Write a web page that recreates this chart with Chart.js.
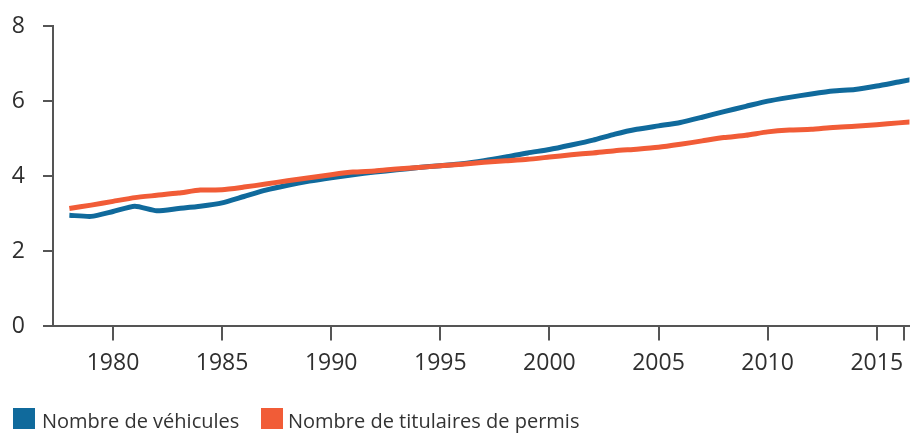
<!DOCTYPE html>
<html>
<head>
<meta charset="utf-8">
<script src="https://cdn.jsdelivr.net/npm/chart.js@4"></script>
<style>
  html, body { margin: 0; padding: 0; background: #fff; }
  #wrap { position: relative; width: 913px; height: 434px; font-family: 'Open Sans', sans-serif; }
  #chart { position: absolute; left: 0; top: 0; }
  .legend-box { position: absolute; top: 408px; width: 22px; height: 21px; }
  .legend-text { position: absolute; top: 407px; font-size: 20px; color: #333; white-space: nowrap; line-height: normal; }
</style>
</head>
<body>
<div id="wrap">
  <canvas id="chart" width="913" height="434"></canvas>
  <div id="legend"></div>
</div>
<script>
// Years and values (millions)
const years = [1978, 1979, 1980, 1981, 1982, 1983, 1984, 1985, 1986, 1987,
  1988, 1989, 1990, 1991, 1992, 1993, 1994, 1995, 1996, 1997,
  1998, 1999, 2000, 2001, 2002, 2003, 2004, 2005, 2006, 2007,
  2008, 2009, 2010, 2011, 2012, 2013, 2014, 2015, 2016, 2017];

const vehicules = [2.96, 2.93, 3.06, 3.20, 3.08, 3.14, 3.20, 3.29, 3.46, 3.63,
  3.76, 3.87, 3.96, 4.04, 4.11, 4.17, 4.23, 4.28, 4.33, 4.41,
  4.51, 4.62, 4.71, 4.83, 4.96, 5.12, 5.25, 5.34, 5.43, 5.57,
  5.72, 5.86, 6.00, 6.10, 6.19, 6.27, 6.31, 6.40, 6.51, 6.62];

const titulaires = [3.14, 3.23, 3.33, 3.43, 3.49, 3.55, 3.63, 3.64, 3.71, 3.79,
  3.88, 3.96, 4.04, 4.11, 4.14, 4.19, 4.23, 4.28, 4.32, 4.37,
  4.41, 4.45, 4.51, 4.57, 4.62, 4.68, 4.72, 4.77, 4.85, 4.94,
  5.03, 5.09, 5.18, 5.23, 5.25, 5.30, 5.33, 5.37, 5.42, 5.46];

const xTicks = [1980, 1985, 1990, 1995, 2000, 2005, 2010, 2015, 2016.25];
const yTicks = [0, 2, 4, 6, 8];

const seriesNames = ['Nombre de véhicules', 'Nombre de titulaires de permis'];
const blue = '#106a9c';
const orange = '#f15c37';
const axisColor = '#555555';
const textColor = '#2f2f2f';

function toPoints(values) {
  return years.map((y, i) => ({ x: y, y: values[i] }));
}

const ctx = document.getElementById('chart').getContext('2d');
const chart = new Chart(ctx, {
  type: 'line',
  data: {
    datasets: [
      {
        label: seriesNames[0],
        data: toPoints(vehicules),
        borderColor: blue,
        backgroundColor: blue,
        borderWidth: 5,
        pointRadius: 0,
        tension: 0.2,
        order: 1
      },
      {
        label: seriesNames[1],
        data: toPoints(titulaires),
        borderColor: orange,
        backgroundColor: orange,
        borderWidth: 5,
        pointRadius: 0,
        tension: 0.2,
        order: 0
      }
    ]
  },
  options: {
    responsive: false,
    animation: false,
    layout: { padding: { left: 0, top: 26, right: 0, bottom: 48 } },
    plugins: {
      tooltip: { enabled: false },
      legend: { display: false }
    },
    scales: {
      x: {
        type: 'linear',
        min: 1977.25,
        max: 2016.5,
        afterBuildTicks: axis => { axis.ticks = xTicks.map(v => ({ value: v })); },
        ticks: {
          autoSkip: false,
          maxRotation: 0,
          padding: 9,
          color: textColor,
          font: { family: 'Open Sans', size: 23 },
          callback: v => (v % 5 === 0 ? String(v) : '')
        },
        grid: { drawOnChartArea: false, drawTicks: true, tickLength: 14, color: axisColor, lineWidth: 2 },
        border: { display: true, color: axisColor, width: 2 }
      },
      y: {
        min: 0,
        max: 8,
        afterBuildTicks: axis => { axis.ticks = yTicks.map(v => ({ value: v })); },
        afterFit: axis => {
          axis.width = 53;
          axis.paddingTop = 0;
          axis.paddingBottom = 0;
        },
        ticks: {
          padding: 18,
          color: textColor,
          font: { family: 'Open Sans', size: 23 }
        },
        grid: { drawOnChartArea: false, drawTicks: true, tickLength: 10, color: axisColor, lineWidth: 2 },
        border: { display: true, color: axisColor, width: 2 }
      }
    }
  }
});

// Legend below the plot, built from the dataset list
const legendEl = document.getElementById('legend');
const legendBoxX = [13, 261];
const legendTextX = [42, 288];
chart.data.datasets.forEach((ds, i) => {
  const box = document.createElement('div');
  box.className = 'legend-box';
  box.style.left = legendBoxX[i] + 'px';
  box.style.background = ds.borderColor;
  legendEl.appendChild(box);

  const label = document.createElement('div');
  label.className = 'legend-text';
  label.style.left = legendTextX[i] + 'px';
  label.textContent = ds.label;
  legendEl.appendChild(label);
});
</script>
</body>
</html>
